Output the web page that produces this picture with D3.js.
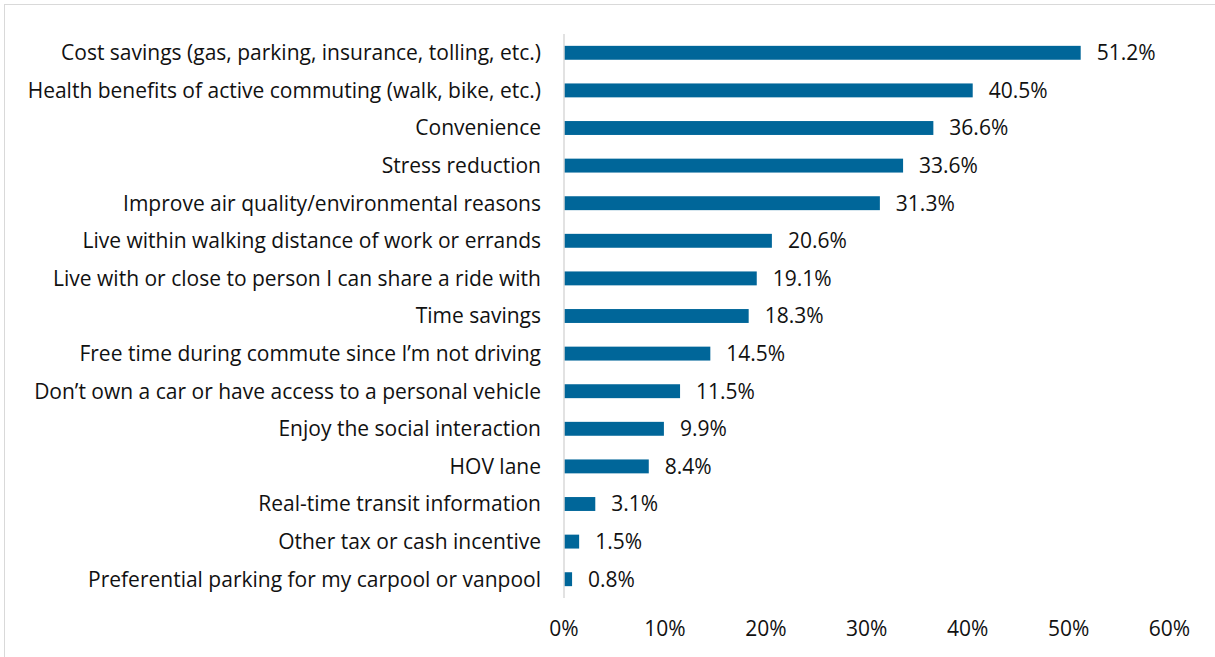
<!DOCTYPE html>
<html>
<head>
<meta charset="utf-8">
<script src="https://cdn.jsdelivr.net/npm/d3@7.9.0/dist/d3.min.js"></script>
<style>
  body { margin: 0; background: #fff; }
  svg { display: block; font-family: "Open Sans", Lato, sans-serif; }
</style>
</head>
<body>
<svg id="chart" width="1215" height="657"></svg>
<script>
const categories = [
  'Cost savings (gas, parking, insurance, tolling, etc.)',
  'Health benefits of active commuting (walk, bike, etc.)',
  'Convenience',
  'Stress reduction',
  'Improve air quality/environmental reasons',
  'Live within walking distance of work or errands',
  'Live with or close to person I can share a ride with',
  'Time savings',
  'Free time during commute since I\u2019m not driving',
  'Don\u2019t own a car or have access to a personal vehicle',
  'Enjoy the social interaction',
  'HOV lane',
  'Real-time transit information',
  'Other tax or cash incentive',
  'Preferential parking for my carpool or vanpool'
];
const values = [51.2, 40.5, 36.6, 33.6, 31.3, 20.6, 19.1, 18.3, 14.5, 11.5, 9.9, 8.4, 3.1, 1.5, 0.8];
const ticks = [0, 10, 20, 30, 40, 50, 60];

const svg = d3.select('#chart');

// outer frame (only top/left edges are visible in the window)
svg.append('rect')
  .attr('x', 4.5).attr('y', 4.5)
  .attr('width', 1220).attr('height', 670)
  .attr('fill', 'none').attr('stroke', '#d9d9d9');

const x = d3.scaleLinear().domain([0, 60]).range([564, 1169.5]);
const y = d3.scaleBand().domain(categories).range([34, 598]).paddingInner(0.63).paddingOuter(0.315);

// bars
svg.selectAll('rect.bar')
  .data(values)
  .join('rect')
  .attr('class', 'bar')
  .attr('x', x(0))
  .attr('y', (d, i) => y(categories[i]))
  .attr('width', d => x(d) - x(0))
  .attr('height', y.bandwidth())
  .attr('fill', '#006699');

// axis line
svg.append('line')
  .attr('x1', x(0)).attr('x2', x(0))
  .attr('y1', 34).attr('y2', 598)
  .attr('stroke', '#d9d9d9').attr('stroke-width', 1.5);

const fs = 21;

// category labels
svg.selectAll('text.cat')
  .data(categories)
  .join('text')
  .attr('class', 'cat')
  .attr('x', 541)
  .attr('y', d => y(d) + y.bandwidth() / 2)
  .attr('dy', '0.35em')
  .attr('text-anchor', 'end')
  .attr('font-size', fs)
  .attr('fill', '#111')
  .text(d => d);

// value labels
svg.selectAll('text.val')
  .data(values)
  .join('text')
  .attr('class', 'val')
  .attr('x', d => x(d) + 16)
  .attr('y', (d, i) => y(categories[i]) + y.bandwidth() / 2)
  .attr('dy', '0.35em')
  .attr('font-size', fs)
  .attr('fill', '#111')
  .text(d => d.toFixed(1) + '%');

// x tick labels
svg.selectAll('text.tick')
  .data(ticks)
  .join('text')
  .attr('class', 'tick')
  .attr('x', d => x(d))
  .attr('y', 636)
  .attr('text-anchor', 'middle')
  .attr('font-size', fs)
  .attr('fill', '#111')
  .text(d => d + '%');
</script>
</body>
</html>
